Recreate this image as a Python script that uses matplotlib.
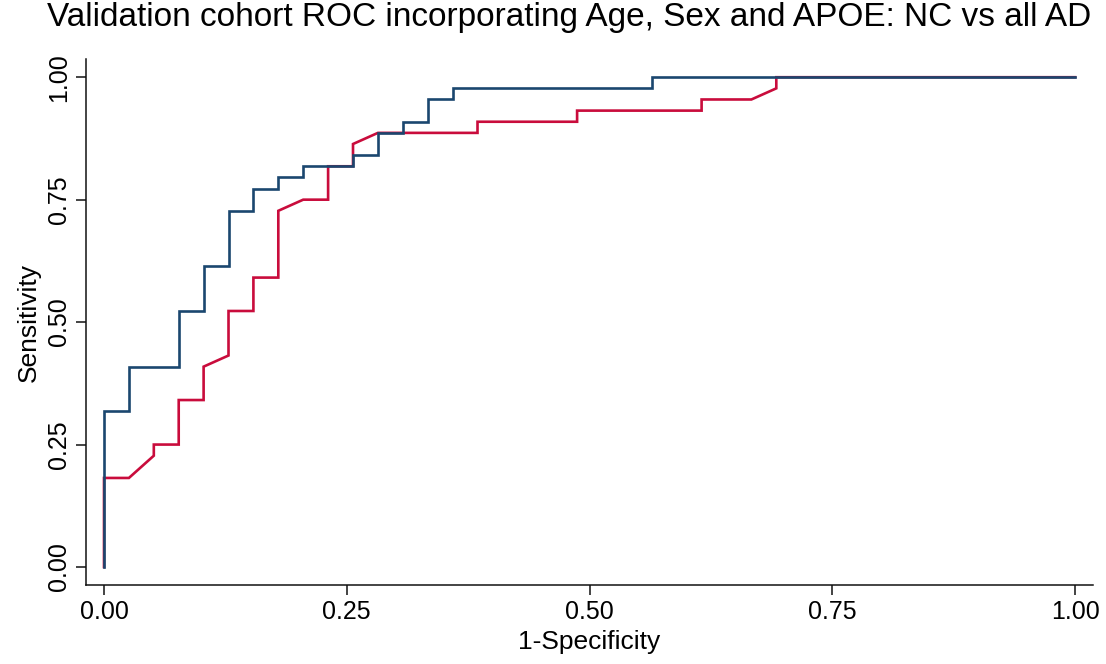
import matplotlib
matplotlib.use("Agg")
import matplotlib.pyplot as plt
import numpy as np

plt.rcParams['font.family'] = ['Liberation Sans', 'DejaVu Sans']

# ROC coordinates as counts: false positives out of controls, true positives out of cases
n_controls = 39
n_cases = 44

model_fp = [0, 0, 1, 1, 3, 3, 4, 4, 5, 5, 6, 6, 7, 7, 8, 8, 10, 10, 11, 11,
            12, 12, 13, 13, 14, 14, 22, 22, 39]
model_tp = [0, 14, 14, 18, 18, 23, 23, 27, 27, 32, 32, 34, 34, 35, 35, 36, 36, 37, 37, 39,
            39, 40, 40, 42, 42, 43, 43, 44, 44]

base_fp = [0, 0, 1, 2, 2, 3, 3, 4, 4, 5, 5, 6, 6, 7, 7, 8, 9, 9, 10, 10, 11,
           15, 15, 19, 19, 24, 24, 26, 27, 27, 39]
base_tp = [0, 8, 8, 10, 11, 11, 15, 15, 18, 19, 23, 23, 26, 26, 32, 33, 33, 36, 36, 38, 39,
           39, 40, 40, 41, 41, 42, 42, 43, 44, 44]

x_ticks = [0.0, 0.25, 0.5, 0.75, 1.0]
y_ticks = [0.0, 0.25, 0.5, 0.75, 1.0]
tick_labels = ["0.00", "0.25", "0.50", "0.75", "1.00"]

fig = plt.figure(figsize=(11.06, 6.64), dpi=100)
ax = fig.add_axes([0.0778, 0.119, 0.9105, 0.792])

ax.plot(np.array(base_fp) / n_controls, np.array(base_tp) / n_cases,
        color='#c90c3c', lw=1.9, solid_joinstyle='miter')
ax.plot(np.array(model_fp) / n_controls, np.array(model_tp) / n_cases,
        color='#1a476f', lw=1.9, solid_joinstyle='miter')

ax.set_xlim(-0.0185, 1.0185)
ax.set_ylim(-0.0367, 1.037)

ax.spines['top'].set_visible(False)
ax.spines['right'].set_visible(False)
for s in ('left', 'bottom'):
    ax.spines[s].set_linewidth(1.1)
    ax.spines[s].set_color('#111111')

ax.set_xticks(x_ticks)
ax.set_xticklabels(tick_labels, fontsize=18)
ax.set_yticks(y_ticks)
ax.set_yticklabels(tick_labels, fontsize=18, rotation=90, va='center')
ax.tick_params(axis='both', length=7, width=1.1, color='#111111', pad=4)

ax.set_xlabel("1-Specificity", fontsize=19, labelpad=4)
ax.set_ylabel("Sensitivity", fontsize=19, labelpad=4)
fig.suptitle("Validation cohort ROC incorporating Age, Sex and APOE: NC vs all AD",
             fontsize=24, x=0.515, y=0.997, va='top')

fig.savefig("out.png", dpi=100, facecolor='white')
